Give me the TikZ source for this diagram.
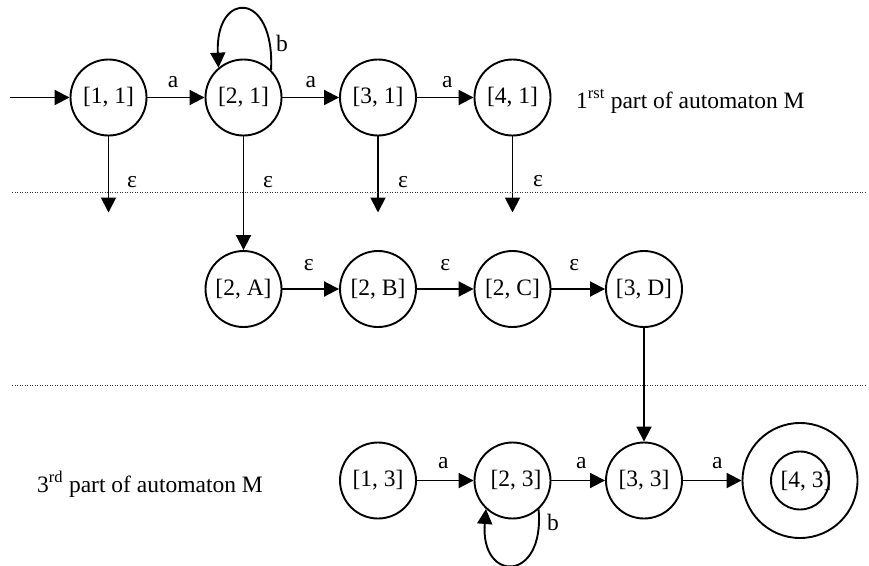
\documentclass[tikz,border=0pt]{standalone}
\usepackage{fontspec}
\setmainfont{Liberation Serif}
\usetikzlibrary{arrows.meta}
\begin{document}
\begin{tikzpicture}[x=1pt,y=-1pt,
  every node/.style={font=\fontsize{23.5}{28}\selectfont},
  state/.style={draw,circle,line width=1.9pt,minimum size=76pt,inner sep=0pt},
  arr/.style={line width=1.9pt,-{Triangle[length=15pt,width=15pt]}},
  lbl/.style={inner sep=0pt},
  sep/.style={line width=1pt,dash pattern=on 1pt off 1.5pt,black!80}]
\useasboundingbox (0,0) rectangle (869,565);
% row 1
\node[state] (n11) at (108.5,97.5) {[1, 1]};
\node[state] (n21) at (243.5,97.5) {[2, 1]};
\node[state] (n31) at (378,97.5) {[3, 1]};
\node[state] (n41) at (512.5,97.5) {[4, 1]};
\node[anchor=base west,inner sep=0pt] (t1) at (576,108) {1\textsuperscript{rst} part of automaton M};
\coordinate (start) at (10,97.5);
\draw[arr] (start) -- (n11);
\draw[arr] (n11) -- node[lbl,midway,yshift=15pt,xshift=-3pt] {a} (n21);
\draw[arr] (n21) -- node[lbl,midway,yshift=15pt] {a} (n31);
\draw[arr] (n31) -- node[lbl,midway,yshift=15pt,xshift=2pt] {a} (n41);
\draw[arr] (n21.45) .. controls (275,-10) and (215,-10) .. (n21.130);
\node[lbl] (b1) at (282,43) {b};
% epsilon exits
\coordinate (e11) at (108.5,212.5);
\coordinate (e31) at (378,212.5);
\coordinate (e41) at (512.5,212.5);
\draw[arr] (n11) -- (e11);
\draw[arr] (n31) -- (e31);
\draw[arr] (n41) -- (e41);
\node[lbl] (le11) at (132,182) {ε};
\node[lbl] (le21) at (268,182) {ε};
\node[lbl] (le31) at (403,182) {ε};
\node[lbl] (le41) at (538,181) {ε};
% separators
\coordinate (s1a) at (12,192.5); \coordinate (s1b) at (866,192.5);
\coordinate (s2a) at (12,385); \coordinate (s2b) at (866,385);
\draw[sep] (s1a) -- (s1b);
\draw[sep] (s2a) -- (s2b);
% row 2
\node[state] (n2A) at (243.5,289) {[2, A]};
\node[state] (n2B) at (378,289) {[2, B]};
\node[state] (n2C) at (512.5,289) {[2, C]};
\node[state] (n3D) at (644,289) {[3, D]};
\draw[arr] (n21) -- (n2A);
\draw[arr] (n2A) -- node[lbl,midway,yshift=24pt,xshift=-2pt] {ε} (n2B);
\draw[arr] (n2B) -- node[lbl,midway,yshift=24pt] {ε} (n2C);
\draw[arr] (n2C) -- node[lbl,midway,yshift=24pt,xshift=-4pt] {ε} (n3D);
% row 3
\node[anchor=base west,inner sep=0pt] (t3) at (37,492) {3\textsuperscript{rd} part of automaton M};
\node[state] (n13) at (378,480.5) {[1, 3]};
\node[state] (n23) at (512.5,480.5) {\hspace*{7pt}[2, 3]};
\node[state] (n33) at (644,480.5) {[3, 3]};
\node[state,minimum size=115pt] (n43) at (800,480.5) {};
\node[state,minimum size=58pt] (n43i) at (800,480.5) {};
\node (t43) at (806,481) {[4, 3]};
\draw[arr] (n3D) -- (n33);
\draw[arr] (n13) -- node[lbl,midway,yshift=17pt,xshift=-2pt] {a} (n23);
\draw[arr] (n23) -- node[lbl,midway,yshift=17pt,xshift=3pt] {a} (n33);
\draw[arr] (n33) -- node[lbl,midway,yshift=17pt,xshift=5pt] {a} (n43);
\draw[arr] (n23.-48) .. controls (545,583) and (480,583) .. (n23.-133);
\node[lbl] (b3) at (553,522) {b};
\end{tikzpicture}
\end{document}
